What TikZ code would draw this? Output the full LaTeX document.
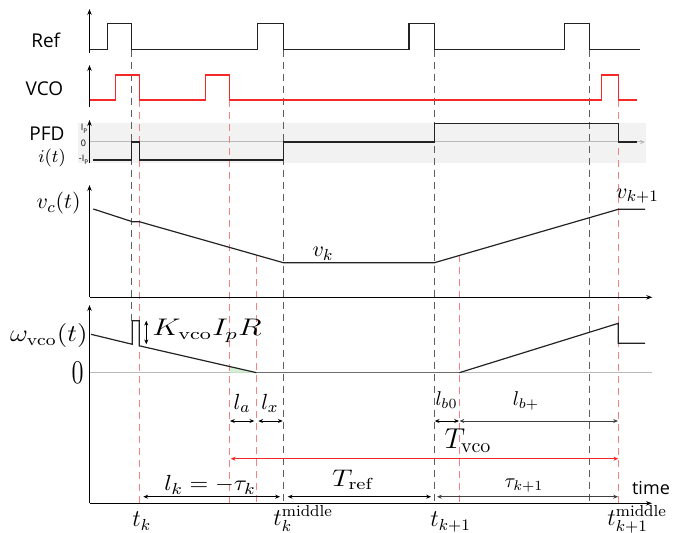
\documentclass[tikz,border=0pt]{standalone}
\usepackage{fontspec}
\setsansfont{Open Sans}
\usetikzlibrary{arrows.meta}
\definecolor{vcored}{RGB}{245,40,40}
\definecolor{dashred}{RGB}{245,130,130}
\definecolor{dashgray}{RGB}{95,95,95}
\definecolor{bandgray}{RGB}{242,242,242}
\definecolor{zerogray}{RGB}{185,185,185}
\definecolor{flatgray}{RGB}{110,110,110}
\definecolor{sigblack}{RGB}{35,35,35}
\definecolor{greenfill}{RGB}{212,240,212}
\begin{document}
\begin{tikzpicture}[x=0.5pt,y=-0.5pt,
  sig/.style={line width=0.6pt,draw=sigblack},
  vcosig/.style={line width=0.6pt,draw=vcored},
  gdash/.style={draw=dashgray,line width=0.45pt,dash pattern=on 3.5pt off 2.5pt},
  rdash/.style={draw=dashred,line width=0.45pt,dash pattern=on 3.5pt off 2.5pt},
  axisarrow/.style={line width=0.6pt,draw=black,-{Stealth[length=3pt,width=2.2pt]}},
  meas/.style={line width=0.4pt,{Stealth[length=2.4pt,width=2pt]}-{Stealth[length=2.4pt,width=2pt]}},
  sanslab/.style={font=\sffamily\fontsize{9.5}{11}\selectfont,inner sep=0pt},
  tinylab/.style={font=\sffamily\fontsize{4.5}{5}\selectfont,inner sep=0pt},
  mlab/.style={inner sep=0pt},
]
\useasboundingbox (0,0) rectangle (683,533);

% PFD band and zero lines
\fill[bandgray] (78,123.3) rectangle (645.7,162.7);
\draw[zerogray,line width=0.5pt,-{Stealth[length=2.5pt,width=2pt]}] (89.5,142) -- (645,142);
\draw[zerogray,line width=0.6pt] (89.5,372.7) -- (652,372.7);
\fill[greenfill] (230,366.5) -- (256.6,372.7) -- (230,372.7) -- cycle;

% dashed time markers
\foreach \x in {283.3,434.5,589.3} \draw[gdash] (\x,49.7) -- (\x,503.3);
\draw[gdash] (131.7,49.7) -- (131.7,320.7);
\foreach \x in {139.3,229.7,618.3} \draw[rdash] (\x,100) -- (\x,503.3);
\foreach \x in {256.6,459.3} \draw[rdash] (\x,255) -- (\x,503.3);

% Ref
\draw[sig] (89.5,49.7) -- (107.3,49.7) -- (107.3,23.7) -- (131.7,23.7) -- (131.7,49.7)
  -- (257.3,49.7) -- (257.3,23.7) -- (283.3,23.7) -- (283.3,49.7)
  -- (409,49.7) -- (409,23.7) -- (434.5,23.7) -- (434.5,49.7)
  -- (564.7,49.7) -- (564.7,23.7) -- (589.3,23.7) -- (589.3,49.7) -- (640,49.7);
% VCO
\draw[vcosig] (89.5,100) -- (115.7,100) -- (115.7,75) -- (139.3,75) -- (139.3,100)
  -- (205.3,100) -- (205.3,75) -- (229.7,75) -- (229.7,100)
  -- (601.7,100) -- (601.7,75) -- (618.3,75) -- (618.3,100) -- (637,100);
% PFD
\draw[sig] (93,160) -- (131.7,160) -- (131.7,142) -- (139.3,142) -- (139.3,160)
  -- (283.3,160) -- (283.3,142) -- (434.5,142) -- (434.5,123.3) -- (618.3,123.3)
  -- (618.3,142) -- (636.7,142);
% v_c
\draw[sig] (93.3,209) -- (132.3,221.7) -- (139.3,221.7) -- (283.3,262.7)
  -- (434.5,262.7) -- (618.3,209.3) -- (645,209.3);
% omega
\draw[sig] (91,334.3) -- (132.3,344.3) -- (132.3,320.7) -- (139.3,320.7)
  -- (139.3,345.8) -- (256.6,372.7);
\draw[flatgray,line width=0.7pt] (256.6,372.7) -- (459.3,372.7);
\draw[sig] (459.3,372.7) -- (618.3,323.3) -- (618.3,343.3) -- (645,343.3);

% axes
\draw[axisarrow] (89.5,53) -- (89.5,9);
\draw[axisarrow] (89.5,107) -- (89.5,65);
\draw[axisarrow] (89.5,163) -- (89.5,120);
\draw[axisarrow] (89.5,297.3) -- (89.5,185);
\draw[axisarrow] (89.5,297.3) -- (652.3,297.3);
\draw[axisarrow] (89.5,503.3) -- (89.5,305);
\draw[axisarrow] (89.5,503.3) -- (652,503.3);

% measurement arrows
\draw[meas] (146.3,320.7) -- (146.3,344.3);
\draw[meas] (230,421) -- (254.3,421);
\draw[meas] (258.3,421) -- (282.7,421);
\draw[meas] (434.7,421) -- (459,421);
\draw[meas,draw=black!75] (459.5,421) -- (618,421);
\draw[meas,draw=vcored,line width=0.55pt] (230.7,458.7) -- (618.3,458.7);
\draw[meas] (143.3,496.7) -- (280,496.7);
\draw[meas] (287.7,496.7) -- (431,496.7);
\draw[meas,draw=black!75] (437,496.7) -- (618,496.7);

% labels
\node[sanslab] (lref) at (45.7,40) {Ref};
\node[sanslab] (lvco) at (44.5,88.5) {VCO};
\node[sanslab] (lpfd) at (47,133.5) {PFD};
\node[mlab,font=\fontsize{9}{10}\selectfont] (lit) at (52,158) {$i(t)$};
\node[tinylab,anchor=west] (lip) at (80.5,129) {I\raisebox{-0.7ex}{\fontsize{3.2}{3}\selectfont P}};
\node[tinylab,anchor=west] (lzero) at (80.5,143) {0};
\node[tinylab,anchor=west] (lmip) at (78.5,160) {-I\raisebox{-0.7ex}{\fontsize{3.2}{3}\selectfont P}};

\node[mlab,anchor=east,font=\fontsize{10.95}{12}\selectfont] (lvc) at (81,203.5) {$v_c(t)$};
\node[mlab,font=\fontsize{10.95}{12}\selectfont] (lvk) at (323,254) {$v_k$};
\node[mlab,font=\fontsize{10.95}{12}\selectfont] (lvk1) at (637.5,196) {$v_{k+1}$};

\node[mlab,anchor=east,font=\fontsize{12}{14}\selectfont] (lw) at (88,336) {\scalebox{1.15}[1]{$\omega_{\mathrm{vco}}(t)$}};
\node[mlab,font=\fontsize{14.4}{16}\selectfont] (lw0) at (77.5,373) {\scalebox{0.85}[1.15]{$0$}};
\node[mlab,anchor=west,font=\fontsize{12}{14}\selectfont] (lK) at (152,331) {\scalebox{1.3}[1]{$K_{\mathrm{vco}}I_pR$}};

\node[mlab,font=\fontsize{10.95}{12}\selectfont] (lla) at (242,403.5) {$l_a$};
\node[mlab,font=\fontsize{10.95}{12}\selectfont] (llx) at (270,403.5) {$l_x$};
\node[mlab,font=\fontsize{10}{11}\selectfont] (llb0) at (446.5,400) {$l_{b0}$};
\node[mlab,font=\fontsize{10}{11}\selectfont] (llbp) at (526,401) {$l_{b+}$};
\node[mlab,font=\fontsize{14.4}{16}\selectfont] (lTvco) at (468,441) {$T_{\mathrm{vco}}$};
\node[mlab,font=\fontsize{12}{14}\selectfont] (lTref) at (352.5,480) {\scalebox{1.2}[1]{$T_{\mathrm{ref}}$}};
\node[mlab,font=\fontsize{10}{12}\selectfont] (ltau) at (524,486) {$\tau_{k+1}$};
\node[mlab,font=\fontsize{10.95}{12}\selectfont] (llk) at (210,485) {\scalebox{1.1}[1]{$l_k=-\tau_k$}};
\node[sanslab,font=\sffamily\fontsize{9}{11}\selectfont] (ltime) at (651,488) {time};

\node[mlab,anchor=north west,font=\fontsize{12}{14}\selectfont] (ltk) at (132,511.5) {$t_k$};
\node[mlab,anchor=north west,font=\fontsize{12}{14}\selectfont] (ltkm) at (273,505) {$t_k^{\mathrm{middle}}$};
\node[mlab,anchor=north west,font=\fontsize{12}{14}\selectfont] (ltk1) at (430,511.5) {$t_{k+1}$};
\node[mlab,anchor=north west,font=\fontsize{12}{14}\selectfont] (ltk1m) at (607,505) {$t_{k+1}^{\mathrm{middle}}$};
\end{tikzpicture}
\end{document}
